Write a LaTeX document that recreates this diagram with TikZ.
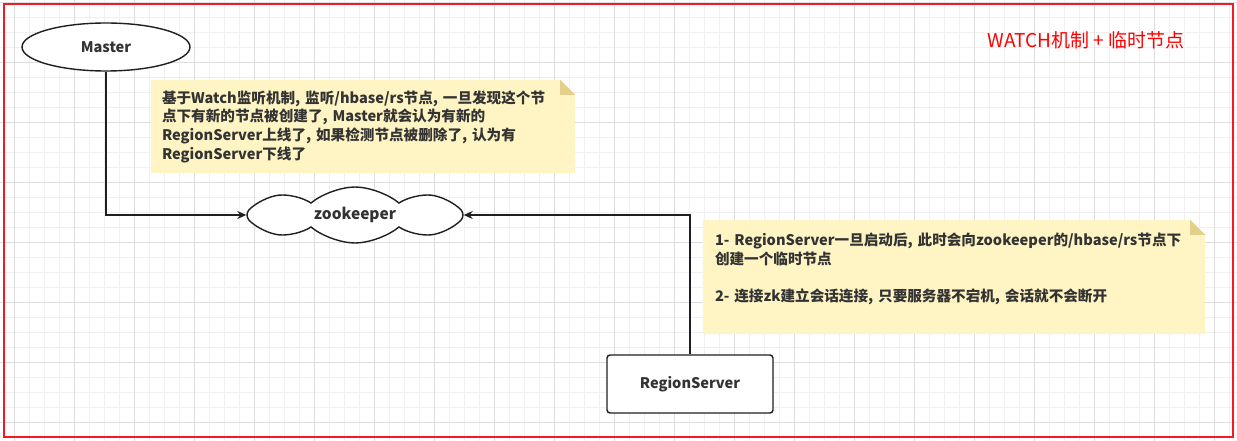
\documentclass[tikz,border=0pt]{standalone}
\usepackage{fontspec}
\setmainfont{Noto Sans CJK SC}
\usetikzlibrary{arrows.meta,shapes.geometric,shapes.symbols}
\definecolor{txt}{HTML}{333333}
\definecolor{edge}{HTML}{1F1F1F}
\definecolor{notefill}{HTML}{FFF4C3}
\definecolor{notefold}{HTML}{E5CF8C}
\definecolor{frame}{HTML}{EE1C25}
\definecolor{gridminor}{HTML}{F0F0F0}
\definecolor{gridmajor}{HTML}{DEDEDE}
\pgfdeclarelayer{grid}
\pgfdeclarelayer{notebg}
\pgfsetlayers{grid,notebg,main}
\tikzset{
  label13/.style={font=\fontsize{14.6}{18.7}\selectfont\bfseries, text=txt},
  term/.style={ellipse, draw=edge, line width=1.4pt, fill=white,
    minimum width=168, minimum height=48, label13},
  server/.style={rectangle, rounded corners=3pt, draw=edge, line width=1.4pt,
    fill=white, minimum width=166, minimum height=58, label13},
  store/.style={cloud, cloud puffs=8, cloud puff arc=80, cloud ignores aspect,
    draw=edge, line width=1.4pt, fill=white, minimum width=216,
    minimum height=56, font=\fontsize{15.5}{18}\selectfont\bfseries, text=txt},
  notebox/.style={rectangle, inner sep=0pt, align=left, label13},
  link/.style={draw=edge, line width=1.4pt, -{Stealth[length=9pt,width=8pt]}}
}
\begin{document}
\begin{tikzpicture}[x=1pt,y=-1pt]
    \useasboundingbox (0,0) rectangle (1237,441);
    % --- background grid
    \begin{pgfonlayer}{grid}
      \fill[white] (0,0) rectangle (1237,441);
      \foreach \gx in {-1,14,...,1237} {\draw[gridminor,line width=0.8pt] (\gx,0) -- (\gx,441);}
      \foreach \gy in {2,17,...,441} {\draw[gridminor,line width=0.8pt] (0,\gy) -- (1237,\gy);}
      \foreach \gx in {14,74,...,1237} {\draw[gridmajor,line width=0.8pt] (\gx,0) -- (\gx,441);}
      \foreach \gy in {2,62,...,441} {\draw[gridmajor,line width=0.8pt] (0,\gy) -- (1237,\gy);}
    \end{pgfonlayer}
    \draw[frame,line width=2pt] (4,4.5) rectangle (1233,436.5);
    % --- nodes
    \node[term] (master) at (106,47) {Master};
    \node[store] (zk) at (355,215) {zookeeper};
    \node[server] (rs) at (690,384) {RegionServer};
    \node[text=red, font=\fontsize{19}{21}\selectfont] (title) at (1086,40) {WATCH机制 + 临时节点};
    % --- notes
    \node[notebox, minimum width=424, minimum height=93, text width=402] (note1) at (363,126.5)
      {基于Watch监听机制, 监听/hbase/rs节点, 一旦发现这个节\\点下有新的节点被创建了, Master就会认为有新的\\RegionServer上线了, 如果检测节点被删除了, 认为有\\RegionServer下线了};
    \node[notebox, minimum width=502, minimum height=114, text width=478] (note2) at (954,277)
      {1- RegionServer一旦启动后, 此时会向zookeeper的/hbase/rs节点下\\创建一个临时节点\\\mbox{}\\2- 连接zk建立会话连接, 只要服务器不宕机, 会话就不会断开\\\mbox{}};
    \begin{pgfonlayer}{notebg}
      \foreach \n in {note1,note2} {
        \fill[notefill] (\n.south west) -- (\n.north west) -- ([xshift=-15pt]\n.north east)
          -- ([yshift=-15pt]\n.north east) -- (\n.south east) -- cycle;
        \fill[notefold] ([xshift=-15pt]\n.north east) -- ([xshift=-15pt,yshift=-15pt]\n.north east)
          -- ([yshift=-15pt]\n.north east) -- cycle;
      }
    \end{pgfonlayer}
    % --- connectors
    \draw[link] (master.south) |- (zk.west);
    \draw[link] (rs.north) |- (zk.east);
  \end{tikzpicture}
\end{document}
